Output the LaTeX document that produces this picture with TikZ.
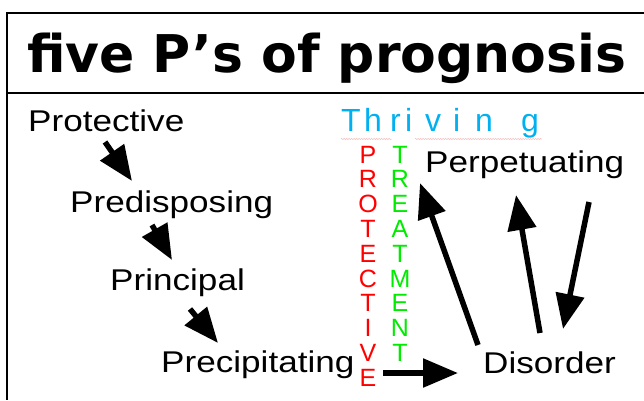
\documentclass[tikz,border=0pt]{standalone}
\usepackage{fontspec}
\setmainfont{Liberation Sans}
\newfontfamily\titlefont{DejaVu Sans}
\definecolor{thrivecyan}{RGB}{0, 176, 240}
\definecolor{protred}{RGB}{255, 0, 0}
\definecolor{treatgreen}{RGB}{0, 235, 0}
\definecolor{squigpink}{RGB}{245, 190, 190}
\usetikzlibrary{arrows.meta, calc, decorations.pathmorphing}

\begin{document}
\begin{tikzpicture}[x=1pt, y=-1pt,
  term/.style={anchor=base west, inner sep=0pt, font=\fontsize{30}{30}\selectfont, xscale=1.17},
  heading/.style={anchor=base west, inner sep=0pt, font=\titlefont\bfseries\fontsize{52}{52}\selectfont},
  pillar/.style={anchor=base, inner sep=0pt, font=\fontsize{25}{25}\selectfont},
  thrive/.style={anchor=base west, inner sep=0pt, text=thrivecyan, font=\fontsize{32}{32}\selectfont},
  bigarrow/.style={line width=5.5pt, -{Triangle[length=35pt, width=28pt]}},
  frame/.style={line width=2pt},
  squiggle/.style={squigpink, line width=0.5pt, decorate, decoration={zigzag, amplitude=0.6pt, segment length=2.5pt}}
]
  \useasboundingbox (0,0) rectangle (644,400);

  % Frame
  \draw[frame] (644,12.5) -- (7,12.5) -- (7,400);
  \draw[frame] (7,93) -- (644,93);

  % Title
  \node[heading] (title) at (27,72) {five P’s of prognosis};

  % The P's
  \node[term] (protective) at (28,131) {Protective};
  \node[term] (predisposing) at (70,212) {Predisposing};
  \node[term] (principal) at (110,290) {Principal};
  \node[term] (precipitating) at (161,372) {Precipitating};
  \node[term] (perpetuating) at (425,172) {Perpetuating};
  \node[term] (disorder) at (483,373) {Disorder};

  % Thriving
  \foreach \ch/\x [count=\i] in {T/341, h/364, r/390, i/405, v/425, i/453, n/475, g/521}
    \node[thrive] (thr\i) at (\x,131) {\ch};
  \draw[squiggle] (341,139) -- (392,139);
  \draw[squiggle] (415,139) -- (542,139);

  % Vertical words
  \foreach \ch [count=\i from 0] in {P,R,O,T,E,C,T,I,V,E}
    \node[pillar, text=protred] (prot\i) at (368,{163+24.8*\i}) {\ch};
  \foreach \ch [count=\i from 0] in {T,R,E,A,T,M,E,N,T}
    \node[pillar, text=treatgreen] (treat\i) at (400,{163+24.8*\i}) {\ch};

  % Arrows
  \draw[bigarrow] ([shift={(77pt,-11pt)}]protective.base west) -- ([shift={(62pt,31pt)}]predisposing.base west);
  \draw[bigarrow] ([shift={(82pt,-13pt)}]predisposing.base west) -- ([shift={(62pt,30pt)}]principal.base west);
  \draw[bigarrow] ([shift={(80pt,-19pt)}]principal.base west) -- ([shift={(57pt,29pt)}]precipitating.base west);
  \draw[bigarrow] ([shift={(222pt,-1pt)}]precipitating.base west) -- ([shift={(-25pt,0pt)}]disorder.base west);
  \draw[bigarrow] ([shift={(-5pt,28pt)}]disorder.base west) -- ([shift={(-5pt,-11pt)}]perpetuating.base west);
  \draw[bigarrow] ([shift={(57pt,40pt)}]disorder.base west) -- ([shift={(91pt,-23pt)}]perpetuating.base west);
  \draw[bigarrow] ([shift={(164pt,-30pt)}]perpetuating.base west) -- ([shift={(80pt,44pt)}]disorder.base west);
\end{tikzpicture}
\end{document}
